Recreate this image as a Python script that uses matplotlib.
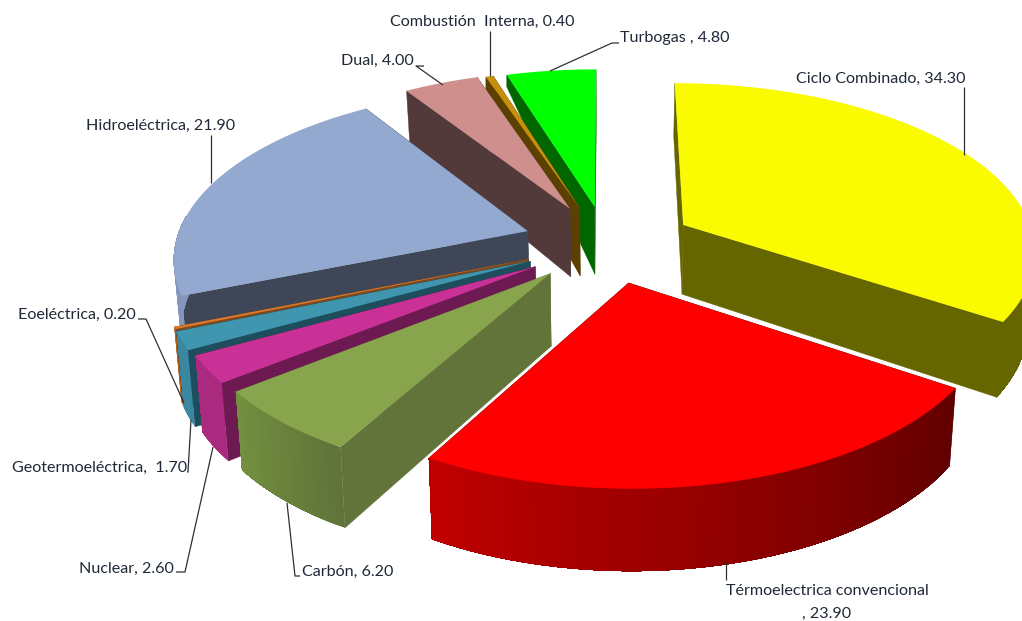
import numpy as np
import matplotlib
matplotlib.use("Agg")
import matplotlib.pyplot as plt
from matplotlib.patches import Polygon

categories = ["Ciclo Combinado", "Térmoelectrica convencional", "Carbón", "Nuclear",
              "Geotermoeléctrica", "Eoeléctrica", "Hidroeléctrica", "Dual",
              "Combustión Interna", "Turbogas"]
values = [34.30, 23.90, 6.20, 2.60, 1.70, 0.20, 21.90, 4.00, 0.40, 4.80]
top_colors = ["#FAFA00", "#FF0000", "#88A44D", "#C93196", "#4196AF", "#E0782A", "#93A9CF", "#CE8F8D", "#C8900A", "#00FF00"]
face_colors = ["#666600", "#600000", "#62743A", "#6E1A52", "#1E4E5E", "#7A4A20", "#3E4658", "#533A3A", "#5B4000", "#006600"]
arc_start = ["#666600", "#600000", "#60733A", "#AA2A80", "#3A87A0", "#C06010", "#8496BA", "#A87674", "#A07808", "#00C000"]
arc_end = ["#666600", "#C00000", "#73913F", "#AA2A80", "#3A87A0", "#C06010", "#8496BA", "#A87674", "#A07808", "#00C000"]
draw_order = [9, 8, 7, 6, 5, 4, 3, 2, 0, 1]
nudge = [(12, -3), (6, 1), (-2, 0), (-3, 1), (-3, 0), (-3, 0), (-3, -3), (-1, -4), (-1, -3), (2, -3)]
radius = [1.0, 0.985, 0.99, 0.99, 1.0, 1.0, 1.0, 1.0, 1.0, 1.0]
far_depth = [None, None, None, None, None, None, None, None, 12, 12]

EXPLODE, P_, K_, S_, X0, Y0 = 0.22, 0.146, 167.0, 352.0, 604.0, 245.0


def project(u, v, low=False):
    s = 1 / (1 + P_ * v)
    x = X0 + S_ * u * s
    y = Y0 - K_ * v * s
    if low:
        y = y + 71 - np.where(np.asarray(v) > 0, 16.0, 9.5) * v
        x = X0 + (x - X0) * 0.983
    return x, y


fig = plt.figure(figsize=(10.22, 6.21), dpi=100)
ax = fig.add_axes([0, 0, 1, 1])
ax.set_xlim(0, 1022)
ax.set_ylim(621, 0)
ax.axis("off")

edges = np.concatenate([[0], np.cumsum(values)]) * 360 / sum(values)


def hex2rgb(h):
    return np.array(matplotlib.colors.to_rgb(h))


for i in draw_order:
    a0, a1 = np.radians(edges[i]), np.radians(edges[i + 1])
    mid = (a0 + a1) / 2
    cu, cv = EXPLODE * np.sin(mid), EXPLODE * np.cos(mid)
    th = np.linspace(a0, a1, max(4, int(np.degrees(a1 - a0) * 1.5) + 2))
    u = cu + radius[i] * np.sin(th)
    v = cv + radius[i] * np.cos(th)
    dx, dy = nudge[i]
    tx, ty = project(u, v)
    bx, by = project(u, v, True)
    ax0, ay0 = project(cu, cv)
    bx0, by0 = project(cu, cv, True)
    tx, bx, ax0, bx0 = tx + dx, bx + dx, ax0 + dx, bx0 + dx
    ty, by, ay0, by0 = ty + dy, by + dy, ay0 + dy, by0 + dy
    # radial faces
    for k in (0, -1):
        lowx, lowy = bx[k], by[k]
        if far_depth[i] is not None and k == 0:
            lowx, lowy = tx[k], ty[k] + far_depth[i]
        ax.add_patch(Polygon([(ax0, ay0), (tx[k], ty[k]), (lowx, lowy), (bx0, by0)],
                             closed=True, fc=face_colors[i], ec=face_colors[i], lw=0.3))
    # curved side: front part only, overlapping steps give a smooth shade
    c0, c1 = hex2rgb(arc_start[i]), hex2rgb(arc_end[i])
    vis = np.where(np.cos(th) < 0.1)[0]
    if len(vis) > 1:
        first, last = vis[0], vis[-1]
        for j in range(first, last):
            t = (j - first) / max(1, last - first - 1)
            c = c0 + (c1 - c0) * t
            xs = np.concatenate([tx[j:last + 1], bx[j:last + 1][::-1]])
            ys = np.concatenate([ty[j:last + 1], by[j:last + 1][::-1]])
            ax.add_patch(Polygon(np.column_stack([xs, ys]), closed=True, fc=c, ec="none"))
    # top face
    ax.add_patch(Polygon(np.vstack([[ax0, ay0], np.column_stack([tx, ty])]),
                         closed=True, fc=top_colors[i], ec="none"))

plt.rcParams["font.family"] = "Lato"
FS = 11.6
TC = "#1F2937"
LC = "#303030"
ax.text(965, 79, "Ciclo Combinado, 34.30", ha="right", va="center", fontsize=FS, color=TC)
ax.text(827, 591, "Térmoelectrica convencional", ha="center", va="center", fontsize=FS, color=TC)
ax.text(827, 614, ", 23.90", ha="center", va="center", fontsize=FS, color=TC)
ax.text(302, 572, "Carbón, 6.20", ha="left", va="center", fontsize=FS, color=TC)
ax.text(174, 569, "Nuclear, 2.60", ha="right", va="center", fontsize=FS, color=TC)
ax.text(187, 468, "Geotermoeléctrica,  1.70", ha="right", va="center", fontsize=FS, color=TC)
ax.text(136, 315, "Eoeléctrica, 0.20", ha="right", va="center", fontsize=FS, color=TC)
ax.text(235, 126, "Hidroeléctrica, 21.90", ha="right", va="center", fontsize=FS, color=TC)
ax.text(414, 61, "Dual, 4.00", ha="right", va="center", fontsize=FS, color=TC)
ax.text(574, 22, "Combustión  Interna, 0.40", ha="right", va="center", fontsize=FS, color=TC)
ax.text(620, 38, "Turbogas , 4.80", ha="left", va="center", fontsize=FS, color=TC)

leaders = [
    [(964, 87), (964, 155)],
    [(726, 562), (726, 580)],
    [(287, 503), (295, 576), (300, 576)],
    [(213, 447), (185, 572), (176, 572)],
    [(191, 420), (188, 472), (187, 472)],
    [(184, 403), (146, 319), (138, 319)],
    [(211, 135), (211, 183)],
    [(424, 66), (416, 66), (443, 85)],
    [(490, 31), (490, 76)],
    [(619, 43), (612, 43), (550, 71)],
]
for pts in leaders:
    xs, ys = zip(*pts)
    ax.plot(xs, ys, color=LC, lw=0.9, solid_capstyle="butt")

fig.savefig("out.png", dpi=100, facecolor="white")
